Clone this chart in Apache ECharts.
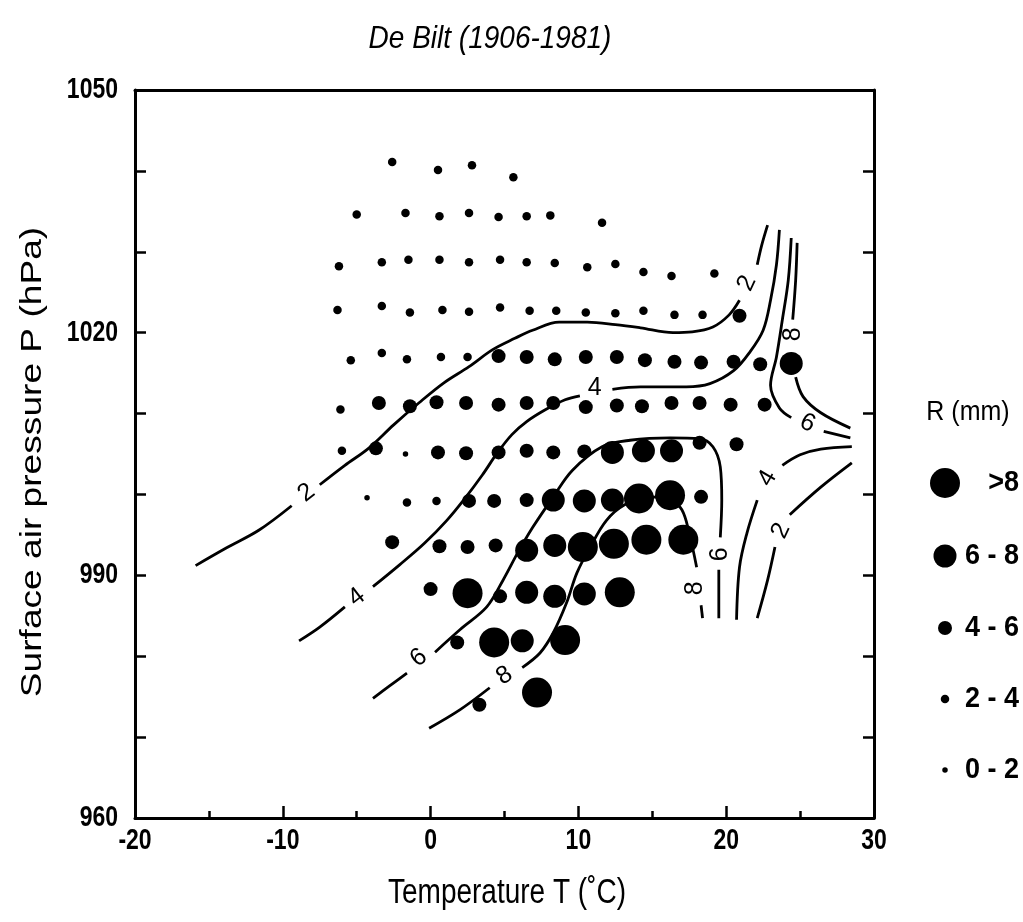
<!DOCTYPE html>
<html><head><meta charset="utf-8">
<script src="https://cdn.jsdelivr.net/npm/echarts@6/dist/echarts.min.js"></script>
<style>html,body{margin:0;padding:0;background:#fff}#c{width:1023px;height:922px}</style>
</head><body><div id="c"></div>
<script>
// ---------- data ----------
const xTicks = [-20, -10, 0, 10, 20, 30];
const yTicks = [960, 990, 1020, 1050];
const titleText = 'De Bilt (1906-1981)';
const xName = 'Temperature T (\u02DAC)';
const yName = 'Surface air pressure P (hPa)';
const legendTitle = 'R (mm)';
// rain classes: 0 = 0-2, 1 = 2-4, 2 = 4-6, 3 = 6-8, 4 = >8 mm
const classNames = ['0 - 2', '2 - 4', '4 - 6', '6 - 8', '>8'];
const legendOrder = [4, 3, 2, 1, 0];
// dots [T (degC), P (hPa), rain class]
const row1040 = [[-2.6,1041.1,1],[0.5,1040.1,1],[2.8,1040.7,1],[5.6,1039.2,1]];
const row1035 = [[-5.0,1034.6,1],[-1.7,1034.8,1],[0.6,1034.4,1],[2.6,1034.8,1],[4.6,1034.3,1],[6.5,1034.4,1],[8.1,1034.5,1],[11.6,1033.6,1]];
const row1028 = [[-6.2,1028.2,1],[-3.3,1028.7,1],[-1.5,1029.0,1],[0.6,1029.0,1],[2.6,1028.7,1],[4.7,1029.0,1],[6.5,1028.7,1],[8.4,1028.6,1],[10.6,1028.1,1],[12.5,1028.5,1],[14.4,1027.5,1],[16.3,1027.0,1],[19.2,1027.3,1]];
const row1023 = [[-6.3,1022.8,1],[-3.3,1023.3,1],[-1.4,1022.5,1],[0.8,1022.8,1],[2.6,1022.6,1],[4.7,1023.1,1],[6.7,1022.7,1],[8.5,1022.7,1],[10.5,1022.5,1],[12.5,1022.4,1],[14.4,1022.7,1],[16.5,1022.2,1],[18.4,1022.2,1],[20.9,1022.1,2]];
const row1017 = [[-5.4,1016.6,1],[-3.3,1017.5,1],[-1.6,1016.7,1],[0.7,1017.0,1],[2.5,1017.0,1],[4.6,1017.1,2],[6.5,1017.0,2],[8.4,1016.7,2],[10.5,1017.0,2],[12.6,1017.0,2],[14.5,1016.6,2],[16.5,1016.4,2],[18.3,1016.3,2],[20.5,1016.4,2],[22.3,1016.1,2],[24.4,1016.2,3]];
const row1011 = [[-6.1,1010.5,1],[-3.5,1011.3,2],[-1.4,1010.9,2],[0.4,1011.4,2],[2.4,1011.3,2],[4.6,1011.1,2],[6.5,1011.3,2],[8.3,1011.3,2],[10.5,1010.8,2],[12.6,1011.0,2],[14.3,1010.9,2],[16.3,1011.3,2],[18.2,1011.3,2],[20.3,1011.1,2],[22.6,1011.1,2]];
const row1005 = [[-6.0,1005.4,1],[-3.7,1005.7,2],[-1.7,1005.0,0],[0.5,1005.2,2],[2.4,1005.1,2],[4.6,1005.2,2],[6.5,1005.4,2],[8.3,1005.2,2],[10.4,1005.3,2],[12.3,1005.2,3],[14.4,1005.4,3],[16.3,1005.4,3],[18.2,1006.4,2],[20.7,1006.2,2]];
const row999 = [[-4.3,999.6,0],[-1.6,999.0,1],[0.4,999.2,1],[2.6,999.2,2],[4.3,999.2,2],[6.5,999.3,2],[8.3,999.3,3],[10.4,999.2,3],[12.3,999.3,3],[14.1,999.5,4],[16.2,999.9,4],[18.3,999.7,2]];
const row994 = [[-2.6,994.1,2],[0.6,993.6,2],[2.5,993.5,2],[4.4,993.7,2],[6.5,993.1,3],[8.4,993.7,3],[10.3,993.5,4],[12.4,993.9,4],[14.6,994.4,4],[17.1,994.4,4]];
const row988 = [[0.0,988.3,2],[2.5,987.8,4],[4.7,987.4,2],[6.5,987.9,3],[8.4,987.4,3],[10.4,987.7,3],[12.8,987.9,4]];
const row982 = [[1.8,981.7,2],[4.3,981.7,4],[6.2,981.9,3],[9.1,982.0,4]];
const row975 = [[3.3,974.0,2],[7.2,975.5,4]];

// isolines of mean rain (segments broken where the labels sit)
const contour2 = [
  [[-15.9,991.2],[-13.8,993.4],[-11.6,995.6],[-9.4,998.6]],
  [[-7.5,1001.2],[-5.8,1003.6],[-4.2,1005.7],[-2.5,1008.6],[-0.8,1011.3],[0.9,1013.8],[2.6,1015.8],[4.2,1017.9],[5.7,1019.3],[6.9,1020.3],[8.7,1021.3],[10.6,1021.3],[12.5,1021.0],[14.2,1020.6],[16.4,1020.0],[17.7,1020.1],[19.1,1020.7],[20.2,1022.2],[20.9,1024.0]],
  [[22.1,1028.4],[22.4,1030.8],[22.8,1033.3]],
  [[28.5,1003.9],[26.4,1000.9],[24.3,997.5]],
  [[23.3,993.5],[22.8,989.4],[22.1,984.7]]
];
const contour4 = [
  [[-8.9,981.9],[-7.5,983.6],[-5.8,986.1]],
  [[-3.9,988.6],[-2.1,991.3],[-0.4,994.0],[1.1,996.8],[2.4,999.7],[3.5,1002.4],[4.5,1005.1],[5.5,1007.4],[6.5,1009.0],[7.7,1010.4],[9.1,1011.7],[10.1,1012.2]],
  [[12.3,1013.0],[14.2,1013.3],[17.3,1013.3],[18.9,1013.7],[20.5,1015.3],[21.6,1017.6],[22.5,1020.3],[23.0,1024.0],[23.4,1028.4],[23.6,1032.7]],
  [[28.5,1005.9],[26.4,1005.6],[25.0,1004.9],[23.8,1003.6]],
  [[22.1,999.3],[21.4,995.2],[20.9,991.0],[20.7,984.5]]
];
const contour6 = [
  [[-3.9,974.8],[-2.8,976.3],[-1.6,977.9]],
  [[0.3,980.5],[2.0,983.3],[3.8,986.1],[4.9,989.4],[5.9,992.8],[6.9,995.9],[8.3,999.7],[9.6,1003.0],[11.6,1005.9],[13.5,1006.7],[16.2,1007.0],[18.2,1006.9],[19.1,1005.9],[19.6,1003.4],[19.7,999.3],[19.6,994.7]],
  [[19.5,990.7],[19.5,984.7]],
  [[24.4,1031.7],[24.2,1026.5],[23.8,1021.6],[23.4,1017.0],[23.0,1013.5],[23.6,1010.7],[24.4,1009.5]],
  [[26.6,1007.8],[28.4,1007.0]]
];
const contour8 = [
  [[-0.1,971.1],[2.0,973.4],[4.0,976.1]],
  [[6.2,978.6],[7.4,980.4],[8.3,982.9],[9.2,986.6],[9.9,990.3],[10.8,993.5],[11.9,996.8],[13.1,998.7],[14.8,999.7],[16.2,999.3],[17.0,998.1],[17.5,995.2],[18.0,991.0]],
  [[18.3,986.3],[18.4,984.7]],
  [[24.8,1031.1],[24.7,1026.5],[24.5,1021.6]],
  [[24.7,1014.5],[25.2,1012.1],[26.4,1010.1],[28.4,1008.2]]
];
// isoline labels [T, P, text]
const contourLabels = [
  [-8.4,1000.2,'2'],[21.4,1026.1,'2'],[23.7,995.5,'2'],
  [-5.0,987.3,'4'],[11.1,1013.2,'4'],[22.8,1002.0,'4'],
  [-0.8,979.8,'6'],[19.6,992.6,'6'],[25.5,1008.8,'6'],
  [5.0,977.6,'8'],[17.9,988.4,'8'],[24.5,1019.8,'8']
];
const contourLabelAngles = [38,65,65, 38,0,60, 38,90,-25, 32,90,90];

// ---------- styling ----------
const classSize = [5.5, 8.5, 14, 23, 30];
const FONT = '"Liberation Sans", Arial, Helvetica, sans-serif';
const STRETCH = 1.28;

const chart = echarts.init(document.getElementById('c'), null, {renderer: 'canvas'});
const dots = [].concat(row1040,row1035,row1028,row1023,row1017,row1011,row1005,row999,row994,row988,row982,row975);

const series = [];
series.push({
  type: 'scatter', data: dots, silent: true, z: 2,
  symbolSize: v => classSize[v[2]],
  itemStyle: {color: '#000', opacity: 1}
});
[contour2, contour4, contour6, contour8].forEach(segs => segs.forEach(seg => {
  series.push({
    type: 'line', data: seg, smooth: 0.35, showSymbol: false, symbol: 'none', silent: true, z: 3,
    lineStyle: {color: '#000', width: 2.8, opacity: 1}
  });
}));
series.push({
  type: 'scatter', silent: true, z: 4, symbolSize: 1,
  itemStyle: {color: '#fff', opacity: 1},
  data: contourLabels.map((l, i) => ({value: [l[0], l[1]], name: l[2], label: {rotate: contourLabelAngles[i]}})),
  label: {show: true, position: 'inside', formatter: p => p.name, fontSize: 25, color: '#000', opacity: 1,
    textBorderWidth: 0, fontFamily: FONT}
});

const axisLineStyle = {color: '#000', width: 3};
const tickStyle = {color: '#000', width: 2.5};
chart.setOption({
  animation: false,
  backgroundColor: '#fff',
  grid: {left: 135, right: 149, top: 90, bottom: 104, containLabel: false},
  xAxis: [{
    type: 'value', min: -20, max: 30, interval: 10, position: 'bottom',
    axisLine: {show: true, onZero: false, lineStyle: axisLineStyle},
    axisTick: {show: true, inside: true, length: 12, lineStyle: tickStyle},
    minorTick: {show: true, splitNumber: 2, length: 7, lineStyle: tickStyle},
    splitLine: {show: false}, minorSplitLine: {show: false},
    axisLabel: {show: false}
  }, {
    type: 'value', min: -20, max: 30, position: 'top',
    axisLine: {show: true, onZero: false, lineStyle: axisLineStyle},
    axisTick: {show: false}, axisLabel: {show: false}, splitLine: {show: false}
  }],
  yAxis: [{
    type: 'value', min: 960, max: 1050, interval: 30, position: 'left',
    axisLine: {show: true, onZero: false, lineStyle: axisLineStyle},
    axisTick: {show: true, inside: true, length: 11, lineStyle: tickStyle},
    minorTick: {show: true, splitNumber: 3, length: 11, lineStyle: tickStyle},
    splitLine: {show: false}, minorSplitLine: {show: false},
    axisLabel: {show: false}
  }, {
    type: 'value', min: 960, max: 1050, interval: 30, position: 'right',
    axisLine: {show: true, onZero: false, lineStyle: axisLineStyle},
    axisTick: {show: true, inside: true, length: 11, lineStyle: tickStyle},
    minorTick: {show: true, splitNumber: 3, length: 11, lineStyle: tickStyle},
    splitLine: {show: false}, minorSplitLine: {show: false},
    axisLabel: {show: false}
  }],
  series: series
});

// ---------- texts (stretched like the scanned original) and legend ----------
const g = [];
function txt(text, x, y, style, scaleY) {
  g.push({
    type: 'text', x: x, y: y, scaleY: scaleY || STRETCH, silent: true, z: 10,
    style: Object.assign({text: text, fill: '#000', fontFamily: FONT, fontSize: 22, align: 'center', verticalAlign: 'middle'}, style)
  });
}
xTicks.forEach(v => {
  const px = chart.convertToPixel({xAxisIndex: 0}, v);
  txt(String(v), px, 841, {fontWeight: 'bold', fontSize: 23});
});
yTicks.forEach(v => {
  const py = chart.convertToPixel({yAxisIndex: 0}, v);
  txt(String(v), 118, py, {fontWeight: 'bold', fontSize: 23, align: 'right'});
});
txt(titleText, 490, 39, {fontStyle: 'italic', fontSize: 28}, 1.15);
txt(xName, 507, 893, {fontSize: 28});
g.push({type: 'text', x: 33, y: 462, rotation: Math.PI / 2, scaleX: 1.28, silent: true, z: 10,
  style: {text: yName, fill: '#000', fontFamily: FONT, fontSize: 29, align: 'center', verticalAlign: 'middle'}});
txt(legendTitle, 968, 412, {fontSize: 25}, 1.1);
const legendY = [483, 556, 628, 699, 770];
legendOrder.forEach((cls, i) => {
  g.push({type: 'circle', silent: true, z: 10, shape: {cx: 945, cy: legendY[i], r: classSize[cls] / 2}, style: {fill: '#000'}});
  txt(classNames[cls], 1019, legendY[i], {fontWeight: 'bold', fontSize: 27, align: 'right'}, 1.1);
});
chart.setOption({graphic: g});
</script>
</body></html>
